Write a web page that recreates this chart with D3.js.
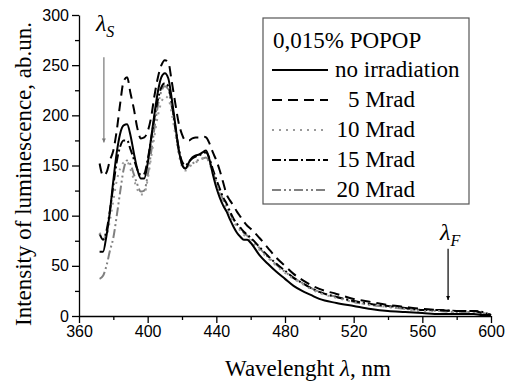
<!DOCTYPE html>
<html>
<head>
<meta charset="utf-8">
<script src="https://cdn.jsdelivr.net/npm/d3@7"></script>
<style>
  body { margin: 0; background: #fff; }
  .tick text { font-family: "Liberation Sans", Arial, sans-serif; font-size: 16px; fill: #000; }
  .serif { font-family: "Liberation Serif", "Times New Roman", serif; fill: #000; }
</style>
</head>
<body>
<div id="chart"></div>
<script>
const margin = { t: 15, r: 15, b: 69, l: 79 };
const W = 506, H = 385;

// wavelength grid, nm
const wavelength = [372, 374, 376, 378, 380, 382, 384, 386, 388, 390, 392, 394, 396, 398, 400,
  402, 404, 406, 408, 410, 412, 414, 416, 418, 420, 422, 424, 426, 428, 430, 432, 434, 436, 438,
  440, 442, 444, 446, 448, 450, 452, 454, 456, 458, 460, 465, 470, 475, 480, 485, 490, 495, 500,
  510, 520, 530, 540, 550, 560, 570, 580, 590, 595, 600];

const noIrradiation = [64, 64, 80, 104, 135, 163, 182, 190, 191, 180, 162, 146, 137, 137, 152,
  177, 202, 224, 238, 242, 237, 217, 192, 167, 151, 147, 153, 158, 160, 161, 163, 165, 156, 141,
  128, 118, 110, 104, 96, 89, 83, 79, 76, 76, 73, 61, 52, 44, 37, 30, 25, 21, 17,
  13, 10, 7, 5, 4, 3, 2, 2, 2, 1, 1];

const mrad5 = [152, 140, 143, 155, 165, 185, 212, 234, 238, 222, 206, 187, 177, 178, 184,
  198, 220, 238, 250, 255, 253, 234, 213, 193, 181, 175, 175, 177, 178, 178, 179, 178, 172, 163,
  155, 145, 133, 121, 115, 110, 104, 99, 94, 90, 87, 78, 68, 58, 50, 42, 36, 31, 27,
  22, 17, 14, 11, 9, 7, 6, 5, 5, 3, 1];

const mrad10 = [83, 78, 80, 95, 115, 135, 147, 153, 154, 146, 136, 126, 121, 122, 136,
  158, 180, 200, 213, 219, 217, 202, 182, 162, 149, 145, 148, 151, 153, 155, 157, 158, 152, 142,
  132, 122, 114, 107, 100, 94, 89, 85, 81, 78, 75, 66, 58, 50, 43, 37, 32, 27, 23,
  18, 14, 11, 9, 7, 5, 5, 4, 4, 3, 1];

const mrad15 = [82, 76, 85, 105, 130, 154, 169, 175, 175, 166, 156, 146, 141, 142, 156,
  176, 198, 216, 228, 232, 229, 212, 190, 168, 154, 150, 154, 157, 159, 160, 162, 163, 157, 146,
  136, 127, 118, 112, 104, 97, 92, 88, 84, 81, 78, 69, 60, 52, 45, 38, 33, 28, 24,
  19, 15, 12, 10, 8, 6, 6, 5, 5, 4, 1];

const mrad20 = [37, 40, 50, 65, 78, 100, 124, 146, 155, 151, 141, 131, 124, 125, 140,
  163, 188, 210, 224, 229, 226, 209, 187, 165, 151, 147, 150, 152, 154, 156, 157, 158, 153, 143,
  133, 124, 116, 109, 102, 96, 91, 87, 83, 80, 77, 68, 59, 51, 44, 38, 33, 28, 24,
  19, 14, 11, 9, 7, 6, 5, 4, 4, 3, 1];

const xTicks = [360, 400, 440, 480, 520, 560, 600];
const yTicks = [0, 50, 100, 150, 200, 250, 300];

const series = [
  { label: "no irradiation", values: noIrradiation, color: "#000", dash: null },
  { label: "5 Mrad", values: mrad5, color: "#000", dash: "10,6" },
  { label: "10 Mrad", values: mrad10, color: "#9a9a9a", dash: "2,5" },
  { label: "15 Mrad", values: mrad15, color: "#000", dash: "9,3,2,3" },
  { label: "20 Mrad", values: mrad20, color: "#808080", dash: "9,3,2,3,2,3" }
];

const scale = {
  x: d3.scaleLinear().domain([360, 600]).range([margin.l, W - margin.r]),
  y: d3.scaleLinear().domain([0, 300]).range([H - margin.b, margin.t])
};

const svg = d3.select("#chart").append("svg")
  .attr("width", W)
  .attr("height", H);

svg.append("rect").attr("width", W).attr("height", H).attr("fill", "#fff");

// minor ticks first, then main axes on top
svg.append("g")
  .attr("transform", "translate(0," + scale.y(0) + ")")
  .call(d3.axisBottom(scale.x).tickValues(d3.range(380, 600, 40)).tickSize(4).tickFormat(""))
  .call(g => g.select(".domain").remove());
svg.append("g")
  .attr("transform", "translate(" + scale.x(360) + ",0)")
  .call(d3.axisLeft(scale.y).tickValues(d3.range(25, 300, 50)).tickSize(4).tickFormat(""))
  .call(g => g.select(".domain").remove());

svg.append("g")
  .attr("transform", "translate(0," + scale.y(0) + ")")
  .call(d3.axisBottom(scale.x).tickValues(xTicks).tickSize(7).tickSizeOuter(0).tickPadding(3).tickFormat(d3.format("d")));

svg.append("g")
  .attr("transform", "translate(" + scale.x(360) + ",0)")
  .call(d3.axisLeft(scale.y).tickValues(yTicks).tickSize(7).tickSizeOuter(0).tickPadding(3));

svg.selectAll(".domain, .tick line").attr("stroke", "#000").attr("stroke-width", 1.3);

// curves
const line = d3.line()
  .x((d, i) => scale.x(wavelength[i]))
  .y(d => scale.y(d))
  .curve(d3.curveMonotoneX);

svg.append("g").selectAll("path")
  .data(series.slice().reverse())
  .join("path")
  .attr("d", d => line(d.values))
  .attr("fill", "none")
  .attr("stroke", d => d.color)
  .attr("stroke-width", 2)
  .attr("stroke-dasharray", d => d.dash);

// axis titles
svg.append("text")
  .attr("class", "serif")
  .attr("transform", "translate(31,174) rotate(-90)")
  .attr("text-anchor", "middle")
  .style("font-size", "23px")
  .text("Intensity of luminescence, ab.un.");

const xt = svg.append("text")
  .attr("class", "serif")
  .attr("x", 308)
  .attr("y", 376)
  .attr("text-anchor", "middle")
  .style("font-size", "23px");
xt.append("tspan").text("Wavelenght ");
xt.append("tspan").style("font-style", "italic").text("λ");
xt.append("tspan").text(", nm");

// arrows for lambda_S and lambda_F
const defs = svg.append("defs");
[["headGray", "#777"], ["headBlack", "#000"]].forEach(([id, c]) => {
  defs.append("marker")
    .attr("id", id)
    .attr("viewBox", "0 0 10 10")
    .attr("refX", 10).attr("refY", 5)
    .attr("markerWidth", 4).attr("markerHeight", 7)
    .attr("markerUnits", "userSpaceOnUse")
    .attr("orient", "auto")
    .append("path").attr("d", "M0,0L10,5L0,10Z").attr("fill", c);
});

const marks = [
  { nm: 374.5, from: 258, to: 173, color: "#777", head: "headGray", sub: "S", ly: 284 },
  { nm: 575, from: 67, to: 16, color: "#000", head: "headBlack", sub: "F", ly: 76 }
];

marks.forEach(m => {
  const x = scale.x(m.nm);
  svg.append("line")
    .attr("x1", x).attr("x2", x)
    .attr("y1", scale.y(m.from)).attr("y2", scale.y(m.to))
    .attr("stroke", m.color).attr("stroke-width", 1.2)
    .attr("marker-end", "url(#" + m.head + ")");
  const t = svg.append("text")
    .attr("class", "serif")
    .attr("x", x - 8)
    .attr("y", scale.y(m.ly))
    .style("font-size", "24px")
    .style("font-style", "italic");
  t.append("tspan").text("λ");
  t.append("tspan").attr("dy", 6).style("font-size", "16px").text(m.sub);
});

// legend
const legend = svg.append("g").attr("transform", "translate(263,18)");
legend.append("rect")
  .attr("width", 206).attr("height", 186)
  .attr("fill", "#fff").attr("stroke", "#555").attr("stroke-width", 1.2);
legend.append("text")
  .attr("class", "serif")
  .attr("x", 10).attr("y", 30)
  .style("font-size", "23px")
  .text("0,015% POPOP");

const row = legend.selectAll(".row")
  .data(series)
  .join("g")
  .attr("class", "row")
  .attr("transform", (d, i) => "translate(0," + (52 + i * 30) + ")");
row.append("line")
  .attr("x1", 9).attr("x2", 65)
  .attr("stroke", d => d.color)
  .attr("stroke-width", 2)
  .attr("stroke-dasharray", d => d.dash);
row.append("text")
  .attr("class", "serif")
  .attr("x", (d, i) => i === 0 ? 72 : 152)
  .attr("y", 7)
  .attr("text-anchor", (d, i) => i === 0 ? "start" : "end")
  .style("font-size", "23px")
  .text(d => d.label);
</script>
</body>
</html>
